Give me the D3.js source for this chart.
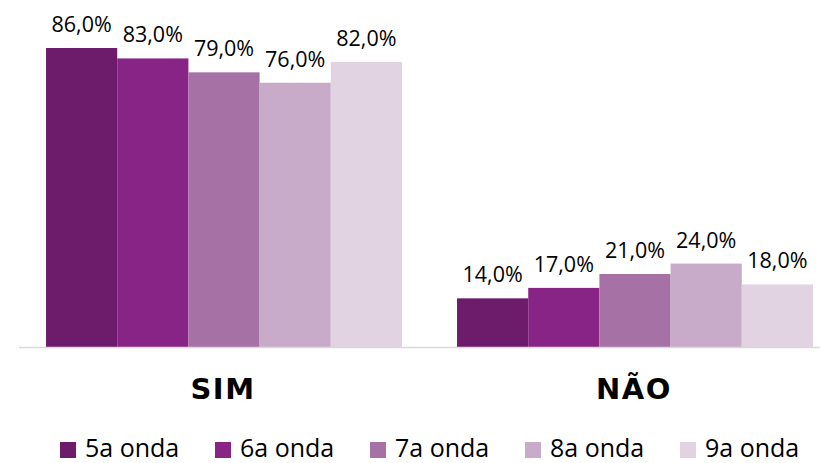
<!DOCTYPE html>
<html>
<head>
<meta charset="utf-8">
<script src="https://cdn.jsdelivr.net/npm/d3@7"></script>
<style>
  body { margin: 0; background: #fff; }
  .label { font-family: "Open Sans", sans-serif; font-size: 21.5px; fill: #000; }
  .cat { font-family: "DejaVu Sans", sans-serif; font-weight: bold; font-size: 29px; fill: #000; letter-spacing: 1.5px; }
  .legend text { font-family: "Open Sans", sans-serif; font-size: 25px; fill: #000; }
</style>
</head>
<body>
<div id="chart"></div>
<script>
var categories = ["SIM", "NÃO"];
var series = ["5a onda", "6a onda", "7a onda", "8a onda", "9a onda"];
var values = [
  [86, 14],
  [83, 17],
  [79, 21],
  [76, 24],
  [82, 18]
];
var colors = ["#6d1c6c", "#892487", "#a671a5", "#c8abc8", "#e2d3e2"];

var width = 820, height = 463;
var baseline = 347;

var svg = d3.select("#chart").append("svg")
    .attr("width", width)
    .attr("height", height);

//Scales
var x0 = d3.scaleBand()
    .domain(categories)
    .range([18.5, 840.5])
    .paddingInner(0.134)
    .paddingOuter(0.067);

var x1 = d3.scaleBand()
    .domain(series)
    .range([0, x0.bandwidth()]);

var y = d3.scaleLinear()
    .domain([0, 86])
    .range([baseline, 48]);

var color = d3.scaleOrdinal().domain(series).range(colors);

//Bars
var groups = svg.selectAll(".group")
    .data(categories)
    .enter().append("g")
    .attr("class", "group")
    .attr("transform", function (d) { return "translate(" + x0(d) + ",0)"; });

var cells = groups.selectAll(".bar")
    .data(function (d, ci) {
        return series.map(function (s, si) { return { s: s, v: values[si][ci] }; });
    })
    .enter();

cells.append("rect")
    .attr("class", "bar")
    .attr("x", function (d) { return x1(d.s); })
    .attr("width", x1.bandwidth())
    .attr("y", function (d) { return y(d.v); })
    .attr("height", function (d) { return baseline - y(d.v); })
    .attr("fill", function (d) { return color(d.s); });

cells.append("text")
    .attr("class", "label")
    .attr("x", function (d) { return x1(d.s) + x1.bandwidth() / 2; })
    .attr("y", function (d) { return y(d.v) - 16; })
    .attr("text-anchor", "middle")
    .text(function (d) { return d.v.toFixed(1).replace(".", ",") + "%"; });

//Axis line
svg.append("line")
    .attr("x1", 19).attr("x2", 820)
    .attr("y1", baseline + 0.5).attr("y2", baseline + 0.5)
    .attr("stroke", "#d9d9d9")
    .attr("stroke-width", 1.5);

//Category labels
svg.selectAll(".cat")
    .data(categories)
    .enter().append("text")
    .attr("class", "cat")
    .attr("x", function (d) { return x0(d) + x0.bandwidth() / 2 - 1; })
    .attr("y", 399)
    .attr("text-anchor", "middle")
    .text(function (d) { return d; });

//Legend
var legend = svg.append("g").attr("class", "legend")
    .selectAll("g")
    .data(series)
    .enter().append("g")
    .attr("transform", function (d, i) { return "translate(" + (60 + i * 155) + ",442)"; });

legend.append("rect")
    .attr("width", 16).attr("height", 16)
    .attr("fill", function (d) { return color(d); });

legend.append("text")
    .attr("x", 25)
    .attr("y", 15)
    .text(function (d) { return d; });
</script>
</body>
</html>
